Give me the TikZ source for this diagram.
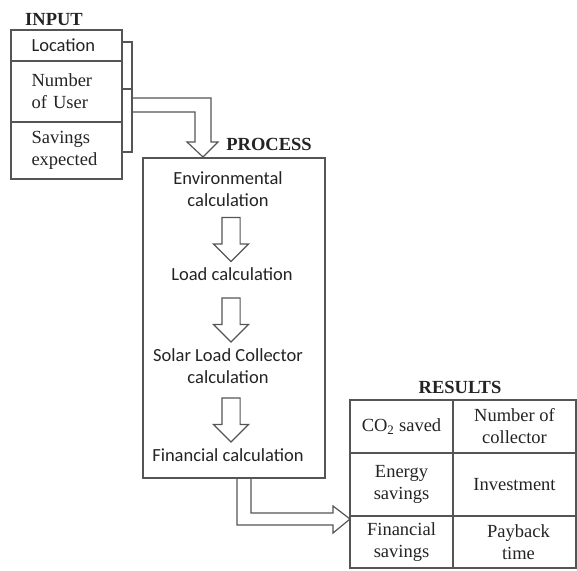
\documentclass[tikz,border=0pt]{standalone}
\usepackage{fontspec}
\setmainfont{Liberation Serif}
\newfontfamily\calcfont{Carlito}
\usetikzlibrary{shapes.arrows, positioning, calc}
\definecolor{framegray}{RGB}{85, 85, 85}
\definecolor{inkgray}{RGB}{35, 35, 35}
\newcommand{\labelsize}{\fontsize{18.5}{22}\selectfont}

\begin{document}
\begin{tikzpicture}[x=1pt, y=-1pt,
    frame/.style={draw=framegray, line width=1.2pt},
    incell/.style={frame, minimum width=111pt, inner sep=0pt, text width=70pt, align=left, text=inkgray},
    rescell/.style={frame, inner sep=0pt, align=center, text=inkgray, font=\labelsize},
    steptext/.style={align=center, text=inkgray, font=\calcfont\labelsize},
    heading/.style={text=inkgray, font=\bfseries\labelsize},
    steparrow/.style={frame, single arrow, rotate=-90, minimum height=44pt, minimum width=34pt,
        single arrow head extend=8.5pt, single arrow tip angle=90, inner xsep=0pt, inner ysep=8.5pt},
    hollow/.style={frame, line join=miter}]
    \useasboundingbox (0,0) rectangle (577,570);

    % Input column
    \node[heading] (inhead) at (54,20) {INPUT};
    \node[incell, minimum height=31pt, font=\calcfont\labelsize] (loc) at (66.5,45.5) {Location};
    \node[incell, minimum height=61pt, font=\labelsize] (users) at (66.5,91.5) {Number\\of User};
    \node[incell, minimum height=57pt, font=\labelsize] (saving) at (66.5,150.5) {Savings\\expected};

    % Bracket round the inputs
    \draw[frame] (123,42) -| (132,152) -- (123,152);
    \draw[frame] (123,89) -- (132,89);
    \coordinate (brkmid) at (132,105);

    % Process box
    \node[heading] (prochead) at (269,144) {PROCESS};
    \node[frame, minimum width=182pt, minimum height=320pt, inner sep=0pt] (proc) at (234,318) {};
    \coordinate (intip) at (203,157);

    % Steps inside the process
    \node[steptext] (env) at (228,189) {Environmental\\calculation};
    \node[steptext] (load) at (232,274) {Load calculation};
    \node[steptext] (solar) at (228,366) {Solar Load Collector\\calculation};
    \node[steptext] (fin) at (228,455) {Financial calculation};

    \node[steparrow] (arrA) at (231,235) {};
    \node[steparrow] (arrB) at (231,315.5) {};
    \node[steparrow] (arrC) at (231,415.5) {};

    % Results table
    \node[heading] (reshead) at (460,387) {RESULTS};
    \node[rescell, minimum width=103pt, minimum height=53pt] (co2) at (401.5,426.5) {CO\textsubscript{2} saved};
    \node[rescell, minimum width=123pt, minimum height=53pt] (ncoll) at (514.5,426.5) {Number of\\collector};
    \node[rescell, minimum width=103pt, minimum height=63pt] (energy) at (401.5,484.5) {Energy\\savings};
    \node[rescell, minimum width=123pt, minimum height=63pt] (invest) at (514.5,484.5) {Investment};
    \node[rescell, minimum width=103pt, minimum height=52pt] (finsav) at (401.5,542) {Financial\\savings};
    \node[rescell, minimum width=123pt, minimum height=52pt] (payback) at (514.5,542) {\hspace{8pt}Payback\\\hspace{8pt}time};
    \coordinate (outtip) at (350,519);

    % Bent arrow from inputs into process
    \draw[hollow] ($(brkmid)+(0,-7)$) -| ($(intip)+(8,-15)$) -- ++(7,0) -- (intip)
        -- ++(-16,-15) -- ++(8,0) |- ($(brkmid)+(0,7)$);

    % Bent arrow from process to results
    \draw[hollow] ($(proc.south)+(3,0)$) |- ($(outtip)+(-17,6)$) -- ++(0,8) -- (outtip)
        -- ++(-17,-13) -- ++(0,7) -| ($(proc.south)+(17,0)$);
\end{tikzpicture}
\end{document}
